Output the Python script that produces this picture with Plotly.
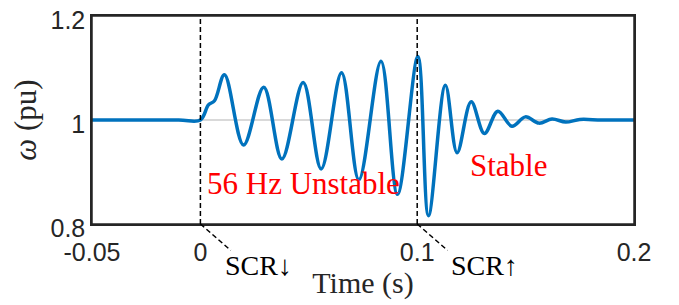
import plotly.graph_objects as go

# ---- data ----
time_s = [-0.05, -0.01, 0.0, 0.0037, 0.0065, 0.0111, 0.0199, 0.0292, 0.0376, 0.0474,
          0.0557, 0.0651, 0.0731, 0.0833, 0.0909, 0.1003, 0.1052, 0.1130, 0.1184,
          0.1249, 0.1310, 0.1372, 0.1437, 0.1499, 0.1562, 0.1622, 0.1685, 0.1750,
          0.1850, 0.2000]
omega_pu = [1.0, 1.0, 1.0, 1.029, 1.037, 1.087, 0.952, 1.063, 0.925, 1.072,
            0.906, 1.091, 0.885, 1.113, 0.857, 1.122, 0.816, 1.067, 0.937,
            1.035, 0.974, 1.017, 0.988, 1.006, 0.994, 1.002, 0.996, 1.001,
            1.0, 1.0]

x_ticks = [-0.05, 0, 0.1, 0.2]
x_tick_labels = ["-0.05", "0", "0.1", "0.2"]
y_ticks = [0.8, 1.0, 1.2]
y_tick_labels = ["0.8", "1", "1.2"]

event_times = [0.0, 0.1]
event_labels = ["SCR<b>↓</b>", "SCR<b>↑</b>"]

region_labels = ["56 Hz Unstable", "Stable"]
region_label_x = [0.0022, 0.1233]
region_label_y = [0.877, 0.913]

X_RANGE = [-0.05, 0.2]
Y_RANGE = [0.8, 1.2]

AX_COLOR = "#262626"
SERIF = "Liberation Serif"
SANS = "Liberation Sans, Arial, sans-serif"


def to_paper_x(t):
    return (t - X_RANGE[0]) / (X_RANGE[1] - X_RANGE[0])


fig = go.Figure()
fig.add_trace(go.Scatter(
    x=time_s, y=omega_pu, mode="lines",
    line=dict(color="#0072BD", width=3.5, shape="spline", smoothing=1.0),
    showlegend=False, hoverinfo="skip",
))

DASH = "5px,3px"
shapes = [dict(type="rect", xref="paper", yref="paper", x0=0, y0=0, x1=1, y1=1,
               line=dict(color=AX_COLOR, width=1.5), layer="above")]
annotations = []
label_dx = [0.041, 0.058]
for t, lab, dx in zip(event_times, event_labels, label_dx):
    # vertical dashed event line
    shapes.append(dict(type="line", xref="x", yref="paper", x0=t, x1=t, y0=0, y1=1,
                       line=dict(color="black", width=1.5, dash=DASH), layer="above"))
    # diagonal leader to the label
    px = to_paper_x(t)
    shapes.append(dict(type="line", xref="paper", yref="paper", x0=px, y0=0,
                       x1=px + 0.056, y1=-0.127,
                       line=dict(color="black", width=1.5, dash=DASH), layer="above"))
    annotations.append(dict(text=lab, xref="paper", yref="paper", x=px + dx,
                            y=-0.198, xanchor="left", yanchor="middle", showarrow=False,
                            font=dict(family=SERIF, size=28, color="black")))

for txt, lx, ly in zip(region_labels, region_label_x, region_label_y):
    annotations.append(dict(text=txt, x=lx, y=ly, xref="x", yref="y",
                            xanchor="left", yanchor="middle", showarrow=False,
                            font=dict(family=SERIF, size=31, color="#ff0000")))

# the page body adds an 8 px offset, so the figure is 8 px smaller and shifted
fig.update_layout(
    width=671, height=297,
    margin=dict(l=84, r=45, t=8, b=81, autoexpand=False),
    paper_bgcolor="white", plot_bgcolor="white",
    shapes=shapes, annotations=annotations,
    xaxis=dict(range=X_RANGE, tickvals=x_ticks, ticktext=x_tick_labels,
               automargin=False, ticklabeloverflow="allow",
               showline=True, mirror=True, linecolor=AX_COLOR, linewidth=1.5,
               showgrid=False, zeroline=False, ticks="", ticklabelstandoff=5,
               tickfont=dict(family=SANS, size=25, color=AX_COLOR),
               title=dict(text="Time (s)", standoff=0,
                          font=dict(family=SERIF, size=30, color=AX_COLOR))),
    yaxis=dict(range=Y_RANGE, tickvals=y_ticks, ticktext=y_tick_labels,
               automargin=False, ticklabeloverflow="allow", ticklabelshift=4,
               showline=True, mirror=True, linecolor=AX_COLOR, linewidth=1.5,
               showgrid=True, gridcolor="#d9d9d9", gridwidth=1.5,
               zeroline=False, ticks="",
               tickfont=dict(family=SANS, size=25, color=AX_COLOR),
               title=dict(text="<i>ω</i> (pu)", standoff=9,
                          font=dict(family=SERIF, size=31, color=AX_COLOR))),
)

fig.write_html("out.html")
